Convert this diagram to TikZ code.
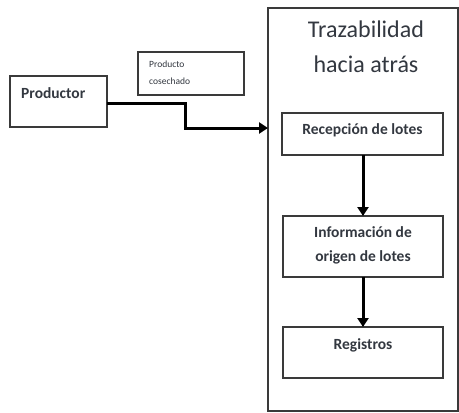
\documentclass[tikz,border=0pt]{standalone}
\usepackage{fontspec}
\setmainfont{Carlito}
\usetikzlibrary{arrows.meta}
\definecolor{txt}{HTML}{333840}
\definecolor{frame}{HTML}{3A3A3A}
\begin{document}
\begin{tikzpicture}[x=1pt,y=-1pt,
  boxed/.style={draw=frame,line width=1.6pt,fill=white},
  flow/.style={line width=3pt,-{Triangle[length=9pt,width=11pt]}},
  lbl/.style={text=txt,font=\bfseries\fontsize{15.5}{24}\selectfont,align=center}]
\useasboundingbox (0,0) rectangle (459,413);
% outer container
\draw[boxed] (268,8) rectangle (458,411);
\node[text=txt,font=\fontsize{24}{35}\selectfont,align=center] (title) at (366,47) {Trazabilidad\\hacia atrás};
% left boxes
\draw[boxed] (10,76) rectangle (107,127);
\node[lbl,anchor=west,inner sep=0pt] (prodtxt) at (21,93) {Productor};
\draw[boxed] (138,52) rectangle (244,95);
\node[text=txt,font=\fontsize{9.5}{17}\selectfont,align=left,anchor=west,inner sep=0pt] (cosech) at (149,73) {Producto\\cosechado};
% inner boxes
\draw[boxed] (282,113) rectangle (443,155);
\node[lbl] (rec) at (362.5,130) {Recepción de lotes};
\coordinate (recB) at (363,155);
\draw[boxed] (283,216) rectangle (443,277);
\node[lbl] (info) at (363,245) {Información de\\origen de lotes};
\coordinate (infoT) at (363,216);
\coordinate (infoB) at (363,277);
\draw[boxed] (283,327) rectangle (443,378);
\node[lbl] (reg) at (363,345) {Registros};
\coordinate (regT) at (363,327);
% connectors
\coordinate (pR) at (107,103);
\coordinate (cL) at (268,128);
\draw[flow] (pR) -- (185,103) -- (185,128) -- (cL);
\draw[flow] (recB) -- (infoT);
\draw[flow] (infoB) -- (regT);
\end{tikzpicture}
\end{document}
